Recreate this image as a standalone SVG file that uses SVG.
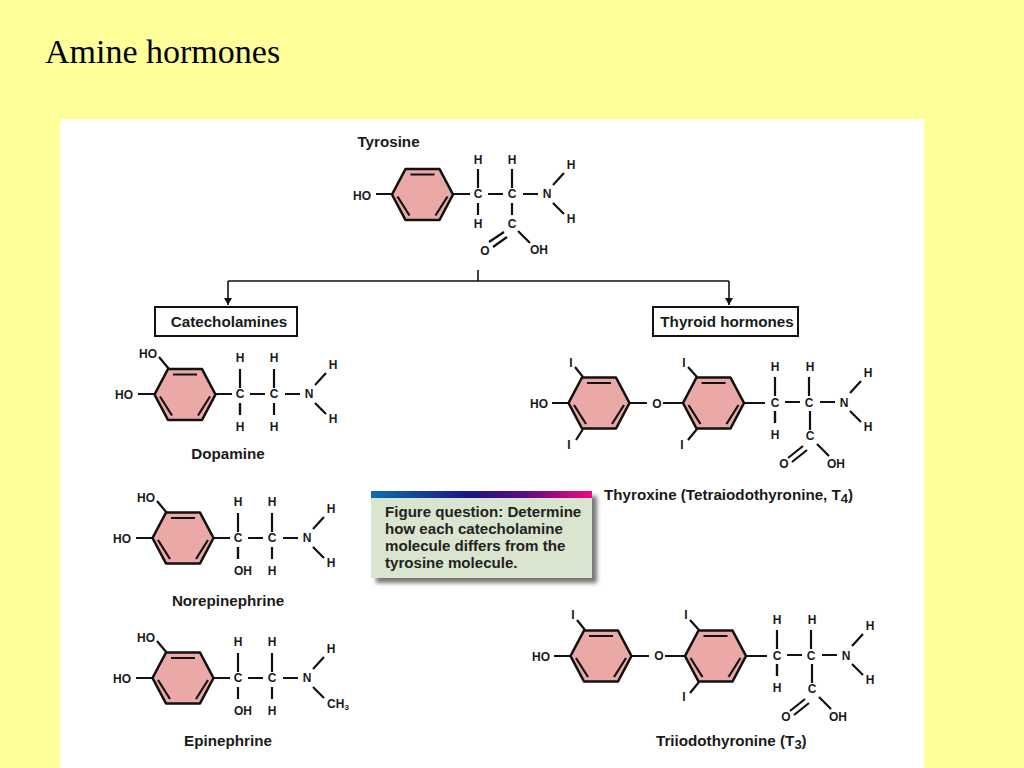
<svg xmlns="http://www.w3.org/2000/svg" xmlns:xlink="http://www.w3.org/1999/xlink" width="1024" height="768" viewBox="0 0 1024 768">
<style>
text{font-family:"Liberation Sans",Arial,sans-serif;font-weight:bold;fill:#1a1a1a}
.a{font-size:12px;text-anchor:middle}
.n{font-size:15.200px;text-anchor:middle}
.q{font-size:15.100px;fill:#222}
.b{stroke:#111;stroke-width:2.200;fill:none}
.r{fill:#eaa9a7;stroke:#111;stroke-width:2.600;stroke-linejoin:round}
.i{stroke:#111;stroke-width:2.200;fill:none}
.box{fill:#fff;stroke:#111;stroke-width:2}
.c{stroke:#111;stroke-width:1.600;fill:none}
</style>
<defs>
<g id="ring">
<path class="r" d="M-30.500 0L-17 -25.500H17L30.500 0L17 25.500H-17Z"/>
<path class="i" d="M-12 -20H12M-25 2L-13 21M25 2L13 21"/>
</g>
<path id="chain" class="b" d="M0 -25V-6M0 9V21M10 0H25M34 -25V-6M45 0H60M75 -9L86 -21M75 9L86 20"/>
<path id="acid" class="b" d="M34 9V21M11 48L26 38M15 53L29 43M40 37L52 49"/>
<path id="acid2" class="b" d="M35 9V28M13 56L28 44M17 60L32 48M42 42L54 54"/>
<marker id="arr" markerWidth="8" markerHeight="10" refX="7" refY="4" orient="auto" markerUnits="userSpaceOnUse"><path d="M0 0L7 4L0 8Z" fill="#111"/></marker>
<linearGradient id="grad" x1="0" x2="1" y1="0" y2="0"><stop offset="0" stop-color="#0a6fb0"/><stop offset=".45" stop-color="#1c1480"/><stop offset=".7" stop-color="#5c0d84"/><stop offset="1" stop-color="#ee0a80"/></linearGradient>
<filter id="sh" x="-5%" y="-10%" width="115%" height="125%"><feGaussianBlur stdDeviation="2"/></filter>
</defs>
<rect width="1024" height="768" fill="#ffff99"/>
<text x="45" y="63" style="font-family:'Liberation Serif',serif;font-weight:normal;font-size:34px;fill:#000">Amine hormones</text>
<rect x="60" y="119" width="864" height="649" fill="#fff"/>

<g id="connectors">
<path class="c" d="M478 270V281"/>
<path class="c" d="M228 281H729"/>
<path class="c" d="M228 281V305" marker-end="url(#arr)"/>
<path class="c" d="M729 281V305" marker-end="url(#arr)"/>
</g>

<g id="tyrosine">
<text class="n" x="388.500" y="147">Tyrosine</text>
<use xlink:href="#ring" href="#ring" x="422.500" y="194.500"/>
<path class="b" d="M376 194H392M453 194H470"/>
<use xlink:href="#chain" href="#chain" x="478" y="194"/>
<use xlink:href="#acid" href="#acid" x="478" y="194"/>
<text class="a" x="362" y="200">HO</text>
<text class="a" x="478" y="164">H</text><text class="a" x="512" y="164">H</text>
<text class="a" x="478" y="198">C</text><text class="a" x="512" y="198">C</text>
<text class="a" x="547" y="198">N</text><text class="a" x="571" y="169">H</text><text class="a" x="571" y="223">H</text>
<text class="a" x="478" y="228">H</text><text class="a" x="512" y="228">C</text>
<text class="a" x="485" y="255">O</text><text class="a" x="539" y="254">OH</text>
</g>

<g id="catecholamines">
<rect class="box" x="155" y="307" width="142" height="29"/>
<text class="n" x="229" y="327">Catecholamines</text>
</g>
<g id="thyroid-hormones">
<rect class="box" x="653" y="307" width="145" height="29"/>
<text class="n" x="727" y="327">Thyroid hormones</text>
</g>

<g id="dopamine">
<use xlink:href="#ring" href="#ring" x="185" y="394.500"/>
<path class="b" d="M138 394H154M159 357L169 369M215 394H232"/>
<use xlink:href="#chain" href="#chain" x="240" y="394"/>
<path class="b" d="M240 403V415M274 403V415"/>
<text class="a" x="148" y="358">HO</text><text class="a" x="124" y="399">HO</text>
<text class="a" x="240" y="362">H</text><text class="a" x="274" y="362">H</text>
<text class="a" x="240" y="398">C</text><text class="a" x="274" y="398">C</text>
<text class="a" x="309" y="398">N</text><text class="a" x="333" y="369">H</text><text class="a" x="333" y="423">H</text>
<text class="a" x="240" y="431">H</text><text class="a" x="274" y="431">H</text>
<text class="n" x="228" y="459">Dopamine</text>
</g>

<g id="norepinephrine">
<use xlink:href="#ring" href="#ring" x="183" y="538"/>
<path class="b" d="M136 538H152M157 501L167 513M213 538H230"/>
<use xlink:href="#chain" href="#chain" x="238" y="538"/>
<path class="b" d="M238 547V559M272 547V559"/>
<text class="a" x="146" y="502">HO</text><text class="a" x="122" y="543">HO</text>
<text class="a" x="238" y="506">H</text><text class="a" x="272" y="506">H</text>
<text class="a" x="238" y="542">C</text><text class="a" x="272" y="542">C</text>
<text class="a" x="307" y="542">N</text><text class="a" x="331" y="513">H</text><text class="a" x="331" y="567">H</text>
<text class="a" x="243" y="575">OH</text><text class="a" x="272" y="575">H</text>
<text class="n" x="228" y="606">Norepinephrine</text>
</g>

<g id="epinephrine">
<use xlink:href="#ring" href="#ring" x="183" y="678"/>
<path class="b" d="M136 678H152M157 641L167 653M213 678H230"/>
<path class="b" d="M238 653V672M238 687V699M248 678H263M272 653V672M272 687V699M283 678H298M313 669L324 657M313 687L324 698"/>
<text class="a" x="146" y="642">HO</text><text class="a" x="122" y="683">HO</text>
<text class="a" x="238" y="646">H</text><text class="a" x="272" y="646">H</text>
<text class="a" x="238" y="682">C</text><text class="a" x="272" y="682">C</text>
<text class="a" x="307" y="682">N</text><text class="a" x="331" y="653">H</text>
<text class="a" x="338" y="708">CH<tspan font-size="8" dy="2">3</tspan></text>
<text class="a" x="243" y="715">OH</text><text class="a" x="272" y="715">H</text>
<text class="n" x="228" y="746">Epinephrine</text>
</g>

<g id="thyroxine">
<use xlink:href="#ring" href="#ring" x="599" y="403"/>
<use xlink:href="#ring" href="#ring" x="713.500" y="403"/>
<path class="b" d="M552 403H569M575 367L583 377M576 440L583 429M630 403H647M663 403H683M688 367L697 377M688 440L697 429M744 403H765"/>
<use xlink:href="#chain" href="#chain" x="775" y="402"/>
<use xlink:href="#acid2" href="#acid2" x="775" y="402"/>
<path class="b" d="M775 411V423"/>
<text class="a" x="539" y="408">HO</text>
<text class="a" x="571" y="367">I</text><text class="a" x="569" y="449">I</text>
<text class="a" x="657" y="408">O</text>
<text class="a" x="684" y="367">I</text><text class="a" x="682" y="449">I</text>
<text class="a" x="775" y="371">H</text><text class="a" x="810" y="371">H</text>
<text class="a" x="775" y="407">C</text><text class="a" x="809" y="407">C</text>
<text class="a" x="844" y="407">N</text><text class="a" x="868" y="377">H</text><text class="a" x="868" y="431">H</text>
<text class="a" x="775" y="439">H</text><text class="a" x="810" y="440">C</text>
<text class="a" x="784" y="468">O</text><text class="a" x="836" y="468">OH</text>
<text x="604" y="500" style="font-size:15.200px">Thyroxine (Tetraiodothyronine, T<tspan font-size="13" dy="3">4</tspan><tspan dy="-3">)</tspan></text>
</g>

<g id="figure-question">
<rect x="376" y="496" width="221" height="87" fill="#777" filter="url(#sh)"/>
<rect x="371" y="491" width="221" height="87" fill="#d9e5cf"/>
<rect x="371" y="491" width="221" height="7" fill="url(#grad)"/>
<text class="q" x="385" y="517">Figure question: Determine</text>
<text class="q" x="385" y="534">how each catecholamine</text>
<text class="q" x="385" y="551">molecule differs from the</text>
<text class="q" x="385" y="568">tyrosine molecule.</text>
</g>

<g id="triiodothyronine">
<use xlink:href="#ring" href="#ring" x="601" y="656"/>
<use xlink:href="#ring" href="#ring" x="715.500" y="656"/>
<path class="b" d="M554 656H571M577 620L585 630M632 656H649M665 656H685M690 620L699 630M690 693L699 682M746 656H767"/>
<use xlink:href="#chain" href="#chain" x="777" y="655"/>
<use xlink:href="#acid2" href="#acid2" x="777" y="655"/>
<path class="b" d="M777 664V676"/>
<text class="a" x="541" y="661">HO</text>
<text class="a" x="573" y="619">I</text>
<text class="a" x="659" y="660">O</text>
<text class="a" x="686" y="619">I</text><text class="a" x="684" y="701">I</text>
<text class="a" x="777" y="624">H</text><text class="a" x="812" y="624">H</text>
<text class="a" x="777" y="660">C</text><text class="a" x="811" y="660">C</text>
<text class="a" x="846" y="660">N</text><text class="a" x="870" y="630">H</text><text class="a" x="870" y="684">H</text>
<text class="a" x="777" y="692">H</text><text class="a" x="812" y="693">C</text>
<text class="a" x="786" y="721">O</text><text class="a" x="838" y="721">OH</text>
<text x="656" y="746" style="font-size:15.200px">Triiodothyronine (T<tspan font-size="13" dy="3">3</tspan><tspan dy="-3">)</tspan></text>
</g>
</svg>
